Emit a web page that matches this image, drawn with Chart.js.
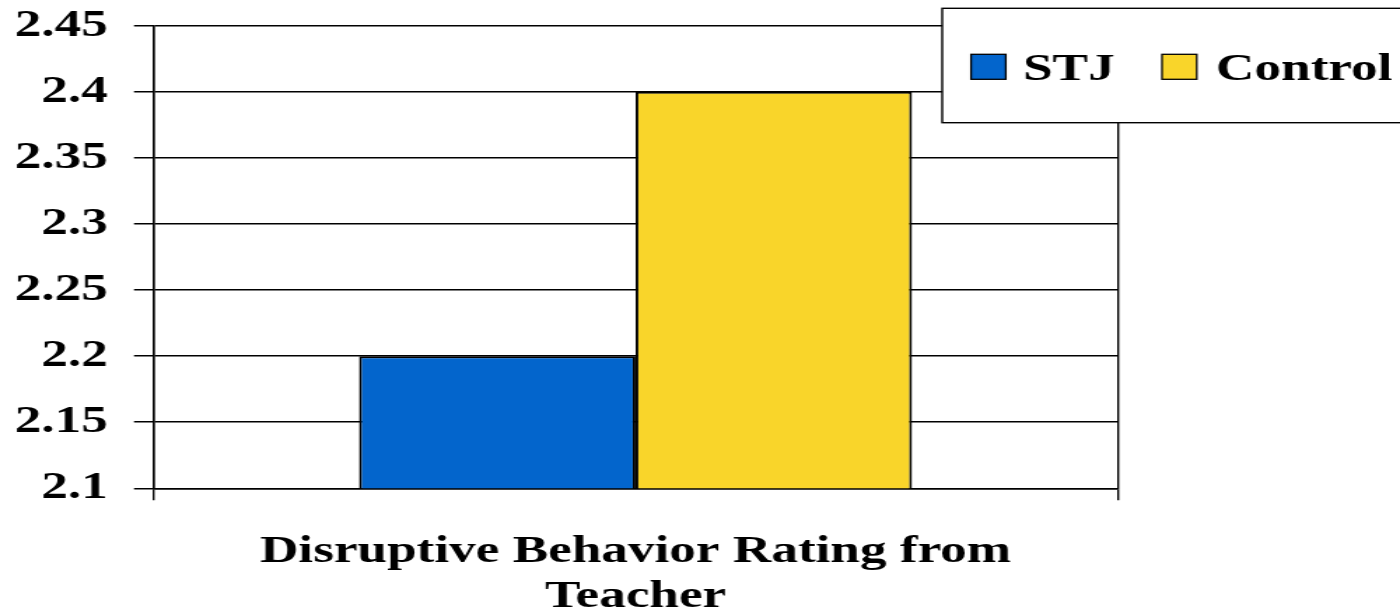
<!DOCTYPE html>
<html>
<head>
<meta charset="utf-8">
<script src="https://cdn.jsdelivr.net/npm/chart.js@4.4.0/dist/chart.umd.min.js"></script>
<style>
  html, body { margin: 0; padding: 0; background: #fff; overflow: hidden; }
  /* chart is laid out narrow and stretched sideways */
  #wrap { width: 1000px; height: 613px; transform: scaleX(1.4); transform-origin: 0 0; }
</style>
</head>
<body>
<div id="wrap"><canvas id="chart"></canvas></div>
<script>
const categories = [['Disruptive Behavior Rating from', 'Teacher']];
const seriesNames = ['STJ', 'Control'];
const stjValues = [2.2];
const controlValues = [2.4];
const yTickValues = [2.1, 2.15, 2.2, 2.25, 2.3, 2.35, 2.4, 2.45];
const yTickLabels = ['2.1', '2.15', '2.2', '2.25', '2.3', '2.35', '2.4', '2.45'];
const seriesColors = ['#0365CC', '#F9D52A'];

const serifFamily = '"Liberation Serif", "Times New Roman", Times, serif';
const boldSerif = { family: serifFamily, weight: 'bold', size: 38 };

// boxed legend sitting over the top-right corner of the plot
const boxLegend = {
  id: 'boxLegend',
  afterDraw(chart) {
    const ctx = chart.ctx;
    ctx.save();
    ctx.fillStyle = '#fff';
    ctx.strokeStyle = '#000';
    ctx.lineWidth = 1.4;
    ctx.fillRect(673, 8.3, 400, 114.4);
    ctx.strokeRect(673, 8.3, 400, 114.4);

    const swatchX = [693.6, 830];
    const textX = [730.7, 868.6];
    ctx.font = 'bold 38px ' + serifFamily;
    ctx.textBaseline = 'alphabetic';
    chart.data.datasets.forEach((ds, i) => {
      ctx.fillStyle = ds.backgroundColor;
      ctx.fillRect(swatchX[i], 54.3, 24.8, 25);
      ctx.lineWidth = 1.3;
      ctx.strokeRect(swatchX[i], 54.3, 24.8, 25);
      ctx.fillStyle = '#000';
      ctx.fillText(ds.label, textX[i], 79.5);
    });
    ctx.restore();
  }
};

new Chart(document.getElementById('chart'), {
  type: 'bar',
  data: {
    labels: categories,
    datasets: [
      { label: seriesNames[0], data: stjValues, backgroundColor: seriesColors[0] },
      { label: seriesNames[1], data: controlValues, backgroundColor: seriesColors[1] }
    ].map(ds => Object.assign(ds, {
      borderColor: '#000',
      borderWidth: 2,
      barPercentage: 1,
      categoryPercentage: 0.573
    }))
  },
  options: {
    responsive: true,
    maintainAspectRatio: false,
    animation: false,
    layout: { padding: { left: 0, right: 201.4, top: 25.7, bottom: 0 } },
    plugins: {
      legend: { display: false },
      tooltip: { enabled: false }
    },
    scales: {
      x: {
        afterFit: (scale) => { scale.height = 124.7; },
        ticks: { font: Object.assign({}, boldSerif, { lineHeight: 1.2 }), color: '#000', padding: 28.7, maxRotation: 0 },
        grid: { offset: true, color: '#000', lineWidth: 1.4, tickLength: 12 },
        border: { color: '#000', width: 1.5 }
      },
      y: {
        min: 2.1,
        max: 2.45,
        afterBuildTicks: (scale) => { scale.ticks = yTickValues.map(v => ({ value: v })); },
        afterFit: (scale) => {
          scale.width = 109.3;
          // let the top tick label hang into the page margin
          scale.paddingTop = 0;
          scale.paddingBottom = 0;
        },
        ticks: {
          font: boldSerif,
          color: '#000',
          padding: 18.6,
          callback: (v) => yTickLabels[yTickValues.indexOf(v)]
        },
        grid: { color: '#000', lineWidth: 1.5, tickLength: 13.6 },
        border: { color: '#000', width: 1.5 }
      }
    }
  },
  plugins: [boxLegend]
});
</script>
</body>
</html>
